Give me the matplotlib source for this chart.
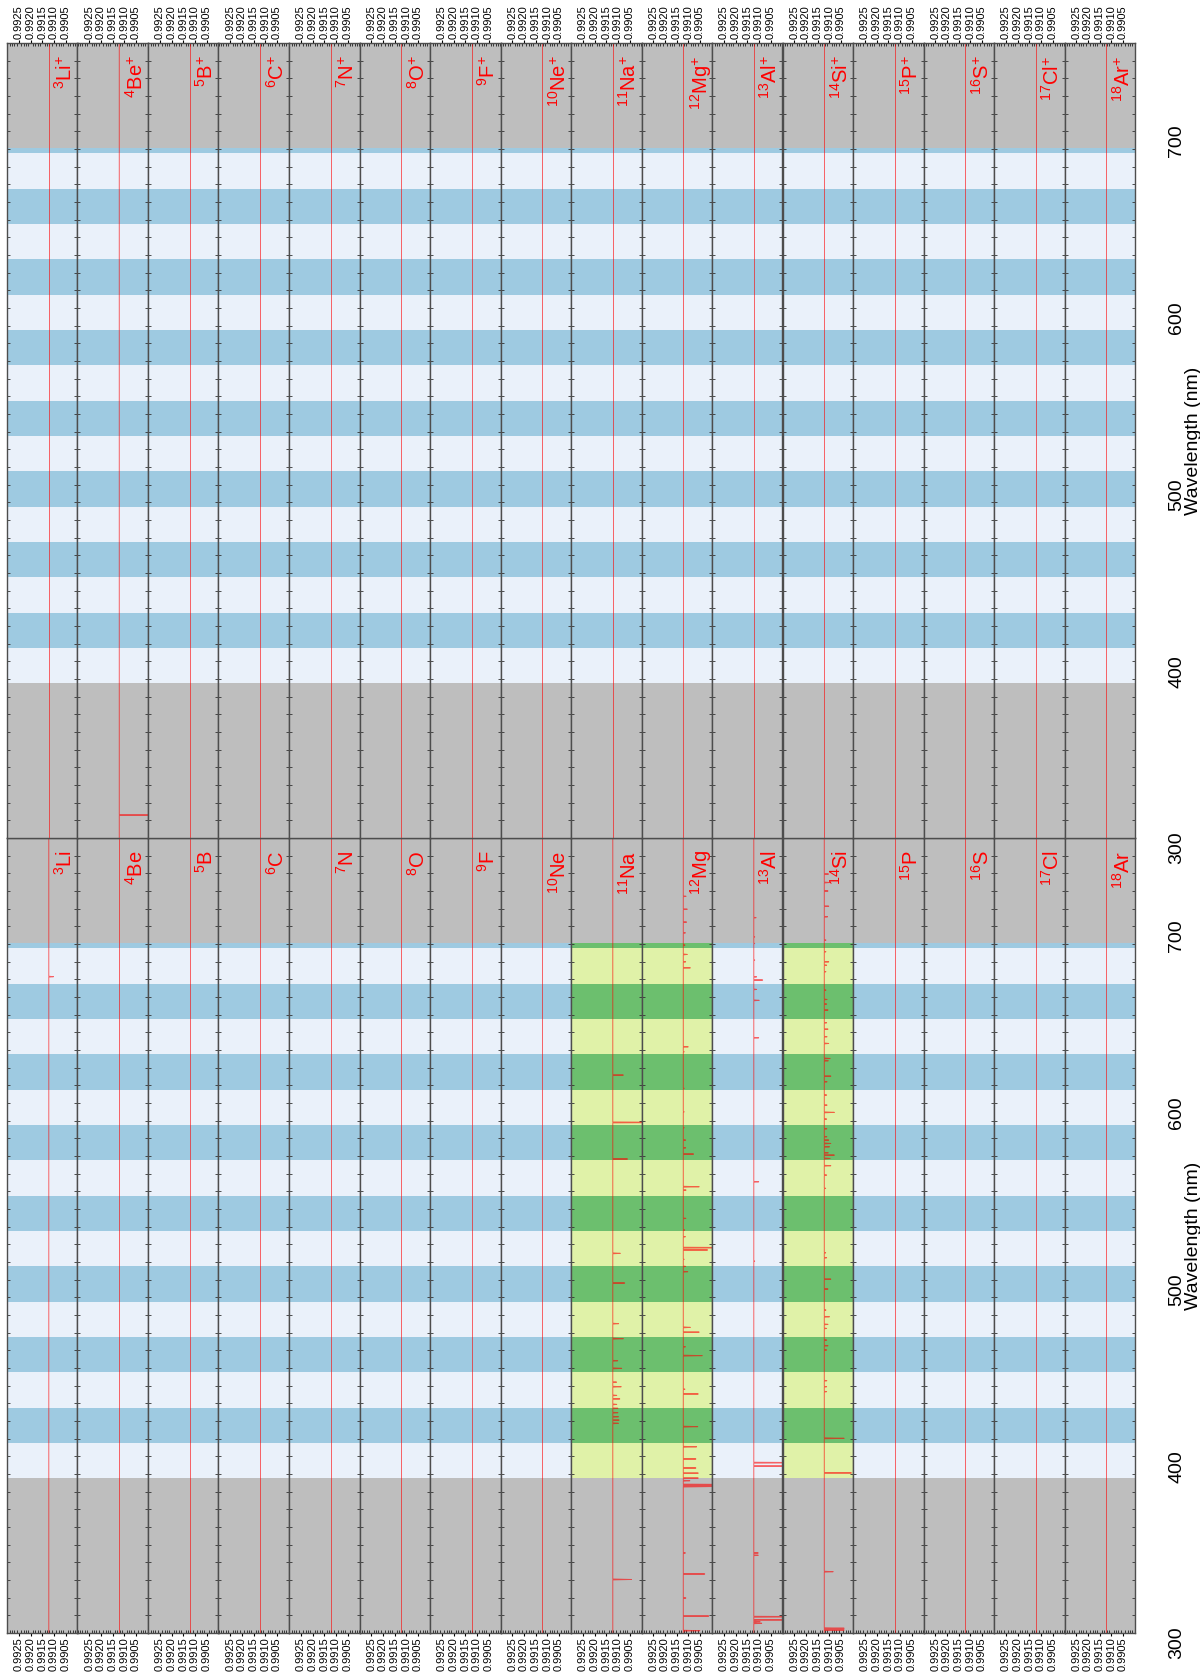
import matplotlib
matplotlib.use("Agg")
import matplotlib.pyplot as plt
from matplotlib.ticker import MultipleLocator, FixedLocator, FixedFormatter

plt.rcParams['font.family'] = ['Liberation Sans', 'DejaVu Sans']
plt.rcParams['mathtext.fontset'] = 'custom'
plt.rcParams['mathtext.rm'] = 'Liberation Sans'
plt.rcParams['mathtext.it'] = 'Liberation Sans:italic'
plt.rcParams['mathtext.bf'] = 'Liberation Sans:bold'

# elements, one strip each
symbols = ["Li", "Be", "B", "C", "N", "O", "F", "Ne",
           "Na", "Mg", "Al", "Si", "P", "S", "Cl", "Ar"]
numbers = [3, 4, 5, 6, 7, 8, 9, 10, 11, 12, 13, 14, 15, 16, 17, 18]
green_strips = ["Na", "Mg", "Si"]

baseline = 0.99122
value_ticks = [0.9905, 0.9910, 0.9915, 0.9920, 0.9925]
value_labels = ["0.9905", "0.9910", "0.9915", "0.9920", "0.9925"]
wl_ticks = [300, 400, 500, 600, 700]

# alternating 20 nm bands of the spectrometer range
band_edges = [387.5, 407.5, 427.5, 447.5, 467.5, 487.5, 507.5, 527.5,
              547.5, 567.5, 587.5, 607.5, 627.5, 647.5, 667.5, 687.5, 690.5]

# lines: wavelength (nm) and dip value
li_wl = [671.5]
li_val = [0.99102]

na_wl = [330.3, 418.7, 420.5, 422.4, 424.7, 427.2, 429.4, 432.5, 434.5,
         439.4, 442.0, 449.8, 454.1, 466.6, 475.1, 498.1, 514.9, 568.3,
         589.0, 615.8]
na_val = [0.99042, 0.99098, 0.99095, 0.99098, 0.99100, 0.99100, 0.99105,
          0.99092, 0.99105, 0.99086, 0.99106, 0.99084, 0.99101, 0.99077,
          0.99097, 0.99071, 0.99090, 0.99059, 0.98800, 0.99077]

mg_wl = [301.3, 309.6, 319.8, 333.4, 345.3, 382.9, 383.3, 384.0, 386.2,
         387.7, 390.5, 393.4, 398.5, 405.4, 416.8, 435.3, 438.0, 457.0,
         462.0, 470.3, 473.0, 504.5, 507.5, 511.5, 516.8, 518.1, 524.3,
         528.1, 534.7, 550.7, 552.6, 571.1, 574.6, 579.0, 586.0, 595.0,
         608.3, 629.0, 631.8, 676.5, 679.9, 684.1, 689.4, 696.3, 702.4,
         709.7, 717.0]
mg_val = [0.99051, 0.99013, 0.99111, 0.99030, 0.99113, 0.99000, 0.98800,
          0.98800, 0.99094, 0.99058, 0.99058, 0.99068, 0.99068, 0.99065,
          0.99060, 0.99058, 0.99115, 0.99041, 0.99113, 0.99054, 0.99092,
          0.99103, 0.99112, 0.99118, 0.99018, 0.98800, 0.99113, 0.99116,
          0.99111, 0.99110, 0.99054, 0.99078, 0.99112, 0.99112, 0.99118,
          0.99118, 0.99118, 0.99118, 0.99101, 0.99092, 0.99112, 0.99105,
          0.99115, 0.99113, 0.99108, 0.99105, 0.99110]

al_wl = [305.5, 306.4, 307.4, 309.2, 344.0, 345.3, 394.5, 396.4, 510.5,
         555.4, 636.9, 658.1, 664.3, 669.6, 671.4, 680.9, 690.3, 694.0,
         704.9]
al_val = [0.99088, 0.99095, 0.98800, 0.98800, 0.99103, 0.99103, 0.98800,
          0.98800, 0.99118, 0.99101, 0.99101, 0.99099, 0.99110, 0.99084,
          0.99110, 0.99118, 0.99118, 0.99118, 0.99112]

si_wl = [301.7, 302.7, 334.7, 390.6, 410.2, 436.6, 439.4, 442.8, 460.2,
         462.6, 465.8, 472.4, 474.7, 479.0, 482.8, 494.7, 500.3, 512.4,
         515.2, 551.7, 559.2, 564.5, 568.6, 570.5, 571.8, 575.2, 577.1,
         579.0, 580.9, 585.4, 590.9, 594.7, 598.8, 604.5, 612.0, 615.2,
         623.9, 625.2, 633.7, 637.5, 641.8, 645.4, 652.6, 656.0, 658.6,
         663.9, 674.3, 678.0, 679.9, 685.6, 692.2, 705.4, 711.4, 720.0,
         724.8, 729.6]
si_val = [0.99037, 0.99037, 0.99084, 0.99006, 0.99037, 0.99112, 0.99112,
          0.99111, 0.99112, 0.99106, 0.99112, 0.99112, 0.99106, 0.99100,
          0.99115, 0.99106, 0.99094, 0.99112, 0.99116, 0.99116, 0.99112,
          0.99094, 0.99097, 0.99079, 0.99105, 0.99100, 0.99094, 0.99103,
          0.99111, 0.99111, 0.99112, 0.99079, 0.99110, 0.99112, 0.99110,
          0.99094, 0.99105, 0.99097, 0.99103, 0.99110, 0.99106, 0.99112,
          0.99106, 0.99112, 0.99110, 0.99115, 0.99115, 0.99112, 0.99103,
          0.99115, 0.99115, 0.99108, 0.99103, 0.99106, 0.99100, 0.99104]

beplus_wl = [313.0]
beplus_val = [0.98800]

neutral_lines = {"Li": (li_wl, li_val), "Na": (na_wl, na_val),
                 "Mg": (mg_wl, mg_val), "Al": (al_wl, al_val),
                 "Si": (si_wl, si_val)}
ion_lines = {"Be": (beplus_wl, beplus_val)}

GRAY = "#bebebe"
BLUE_LIGHT = "#eaf1fa"
BLUE_DARK = "#9ecae1"
GREEN_LIGHT = "#e0f2a8"
GREEN_DARK = "#6cbf6e"


def spectrum(wls, vals):
    ys, xs = [300.0], [baseline]
    for w, v in sorted(zip(wls, vals)):
        ys += [w - 0.25, w, w + 0.25]
        xs += [baseline, v, baseline]
    ys.append(750.0)
    xs.append(baseline)
    return xs, ys


fig = plt.figure(figsize=(12, 16.77), dpi=100)
W, H = 1200.0, 1677.0
left0 = 7 / W
sw = 70.5 / W
gh = 795 / H

groups = [(False, 44 / H, neutral_lines), (True, 839 / H, ion_lines)]

for ion, bottom, lines in groups:
    for i, sym in enumerate(symbols):
        ax = fig.add_axes([left0 + i * sw, bottom, sw, gh])
        ax.set_facecolor(GRAY)
        light, dark = (GREEN_LIGHT, GREEN_DARK) if (not ion and sym in green_strips) \
            else (BLUE_LIGHT, BLUE_DARK)
        for k in range(len(band_edges) - 1):
            ax.axhspan(band_edges[k], band_edges[k + 1],
                       color=light if k % 2 == 0 else dark, lw=0, zorder=0.5)

        wls, vals = lines.get(sym, ([], []))
        xs, ys = spectrum(wls, vals)
        ax.plot(xs, ys, color="red", lw=0.7, alpha=0.6, zorder=2)

        label = r"$^{%d}$%s" % (numbers[i], sym)
        if ion:
            label += r"$^{+}$"
        ax.text(0.99100, 743, label, rotation=90, ha="left", va="top",
                color="red", fontsize=14.5, zorder=3)

        ax.set_xlim(0.99301, 0.98999)
        ax.set_ylim(300, 750)
        ax.xaxis.set_major_locator(FixedLocator(value_ticks))
        ax.xaxis.set_major_formatter(FixedFormatter(value_labels))
        ax.xaxis.set_minor_locator(MultipleLocator(0.0001))
        ax.yaxis.set_major_locator(FixedLocator(wl_ticks))
        ax.yaxis.set_minor_locator(MultipleLocator(10))

        if ion:
            ax.tick_params(axis="x", which="both", top=True, bottom=False,
                           labeltop=True, labelbottom=False)
        ax.tick_params(axis="x", which="major", direction="out", length=2,
                       width=0.8, labelsize=8, labelrotation=90, pad=1)
        ax.tick_params(axis="x", which="minor", direction="in", length=2,
                       width=0.5)
        ax.tick_params(axis="y", which="both", direction="in", left=True,
                       right=True, labelleft=False, labelright=(i == 15),
                       width=0.6, color="#333333")
        ax.tick_params(axis="y", which="major", length=2.5, labelsize=14,
                       labelrotation=90, pad=24)
        ax.tick_params(axis="y", which="minor", length=2)
        if i == 15:
            ax.yaxis.set_label_position("right")
            ax.set_ylabel("Wavelength (nm)", fontsize=14, rotation=90,
                          labelpad=0)
        for s in ax.spines.values():
            s.set_color("#4d4d4d")
            s.set_linewidth(1.0)

fig.savefig("out.png", dpi=100, facecolor="white")
